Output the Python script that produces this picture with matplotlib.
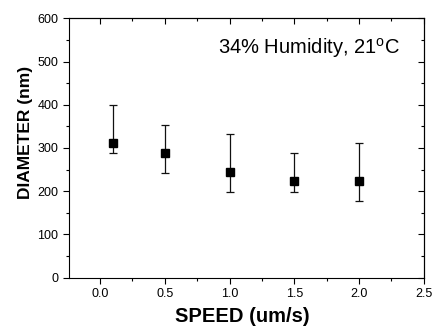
import matplotlib
matplotlib.use("Agg")
import matplotlib.pyplot as plt
import numpy as np
from matplotlib.ticker import MultipleLocator

plt.rcParams['font.family'] = ['Liberation Sans', 'DejaVu Sans']

speed = [0.1, 0.5, 1.0, 1.5, 2.0]
diameter = [311, 289, 245, 223, 223]
err_upper = [400, 353, 333, 288, 311]
err_lower = [288, 242, 199, 199, 177]

lo = np.array(diameter) - np.array(err_lower)
hi = np.array(err_upper) - np.array(diameter)

fig = plt.figure(figsize=(4.36, 3.34), dpi=100)
ax = fig.add_axes([0.158, 0.169, 0.814, 0.776])

ax.errorbar(speed, diameter, yerr=[lo, hi], fmt='s', color='black',
            ms=5.2, ecolor='#111111', elinewidth=0.9, capsize=2.6, capthick=0.9)

ax.set_xlim(-0.24, 2.5)
ax.set_ylim(0, 600)
ax.xaxis.set_major_locator(MultipleLocator(0.5))
ax.xaxis.set_minor_locator(MultipleLocator(0.25))
ax.yaxis.set_major_locator(MultipleLocator(100))
ax.yaxis.set_minor_locator(MultipleLocator(50))
ax.tick_params(which='both', direction='out', labelsize=9, width=0.8)
ax.tick_params(which='major', length=4)
ax.tick_params(which='minor', length=2.2)

# mirrored ticks pointing inward on top and right
top = ax.secondary_xaxis('top')
top.xaxis.set_major_locator(MultipleLocator(0.5))
top.xaxis.set_minor_locator(MultipleLocator(0.25))
right = ax.secondary_yaxis('right')
right.yaxis.set_major_locator(MultipleLocator(100))
right.yaxis.set_minor_locator(MultipleLocator(50))
for sec in (top, right):
    sec.tick_params(which='both', direction='in', labelsize=0, width=0.8)
    sec.tick_params(which='major', length=4)
    sec.tick_params(which='minor', length=2.2)
top.set_xticklabels([])
right.set_yticklabels([])

ax.set_xlabel("SPEED (um/s)", fontsize=14.5, fontweight='bold')
ax.xaxis.set_label_coords(0.489, -0.115)
ax.set_ylabel("DIAMETER (nm)", fontsize=12.5, fontweight='bold')
ax.yaxis.set_label_coords(-0.10, 0.56)
ax.text(0.932, 0.886, "34% Humidity, 21$^\\mathregular{o}$C", transform=ax.transAxes,
        ha='right', va='center', fontsize=14.5)

fig.savefig("out.png", dpi=100)
